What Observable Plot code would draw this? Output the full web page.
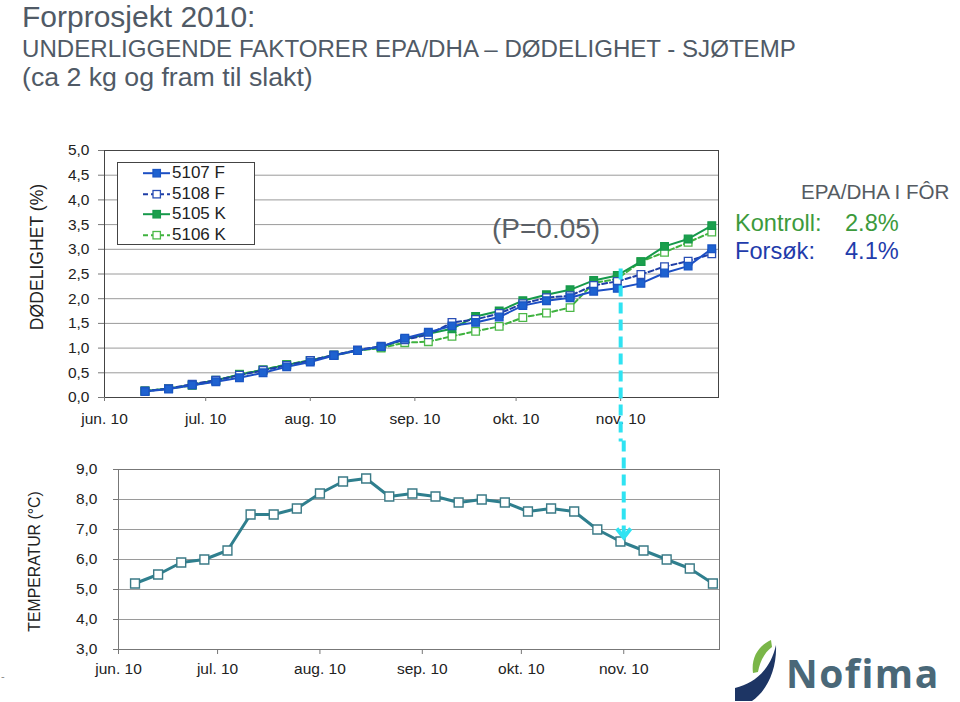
<!DOCTYPE html>
<html><head><meta charset="utf-8">
<script src="https://cdn.jsdelivr.net/npm/d3@7"></script>
<script src="https://cdn.jsdelivr.net/npm/@observablehq/plot@0.6"></script>
<style>
body{margin:0;background:#fff;font-family:"Liberation Sans",Arial,sans-serif;}
#page{position:relative;width:960px;height:702px;overflow:hidden;background:#fff;}
.abs{position:absolute;white-space:nowrap;line-height:1;}
#top,#bottom{position:absolute;left:0;}
#top{top:130px;} #bottom{top:440px;}
</style></head><body>
<div id="page">
  <div class="abs" style="left:22px;top:2px;font-size:30px;color:#505a66;">Forprosjekt 2010:</div>
  <div class="abs" style="left:22px;top:37px;font-size:24.1px;color:#505a66;">UNDERLIGGENDE FAKTORER EPA/DHA – DØDELIGHET - SJØTEMP</div>
  <div class="abs" style="left:22px;top:64px;font-size:26.7px;color:#505a66;">(ca 2 kg og fram til slakt)</div>
  <div id="top"></div>
  <div id="bottom"></div>
  <div id="legend" class="abs" style="left:117px;top:162px;width:136px;height:81px;border:1px solid #444;background:#fff;"></div>
  <div class="abs" style="left:492px;top:215px;font-size:28px;color:#5a5f66;">(P=0.05)</div>
  <div class="abs" style="left:801px;top:182px;font-size:20.6px;color:#555b62;">EPA/DHA I FÔR</div>
  <div class="abs" style="left:735px;top:212px;font-size:23.6px;color:#3c9a3c;">Kontroll:</div>
  <div class="abs" style="left:845px;top:212px;font-size:23.6px;color:#3c9a3c;">2.8%</div>
  <div class="abs" style="left:735px;top:240px;font-size:23.6px;color:#1f3cab;">Forsøk:</div>
  <div class="abs" style="left:845px;top:240px;font-size:23.6px;color:#1f3cab;">4.1%</div>
  <div class="abs" style="left:1px;top:671px;font-size:11px;color:#888;">-</div>
  <svg class="abs" style="left:725px;top:630px;" width="60" height="72" viewBox="725 630 60 72">
    <path d="M735,701 L752,701 C768,690 777,668 776,645 C771,668 756,683 735,688 Z" fill="#1d3564"/>
    <path d="M753,673 C751,658 758,646 771,640 L772,647 C765,652 760,661 758,672 Z" fill="#7ab648"/>
  </svg>
  <div class="abs" style="left:786px;top:653px;font-family:'Open Sans',Lato,sans-serif;font-weight:700;font-size:39px;letter-spacing:1.5px;color:#4a6878;">Nofima</div>
</div>
<script>
// ---------- data ----------
const mortDates = ["2010-06-13","2010-06-20","2010-06-27","2010-07-04","2010-07-11","2010-07-18","2010-07-25",
  "2010-08-01","2010-08-08","2010-08-15","2010-08-22","2010-08-29","2010-09-05","2010-09-12","2010-09-19",
  "2010-09-26","2010-10-03","2010-10-10","2010-10-17","2010-10-24","2010-10-31","2010-11-07","2010-11-14",
  "2010-11-21","2010-11-28"];
const s5107F = [0.12,0.17,0.25,0.32,0.40,0.50,0.62,0.72,0.85,0.95,1.03,1.20,1.32,1.45,1.52,1.63,1.86,1.96,2.02,2.15,2.21,2.31,2.52,2.66,3.01];
const s5108F = [0.13,0.18,0.27,0.35,0.45,0.55,0.65,0.75,0.86,0.96,1.04,1.17,1.27,1.52,1.58,1.70,1.90,2.02,2.06,2.27,2.35,2.49,2.65,2.76,2.91];
const s5105K = [0.13,0.18,0.26,0.35,0.46,0.56,0.66,0.75,0.86,0.95,1.02,1.18,1.29,1.39,1.64,1.75,1.96,2.08,2.18,2.37,2.47,2.75,3.06,3.21,3.48];
const s5106K = [0.13,0.18,0.24,0.34,0.47,0.56,0.67,0.75,0.85,0.95,1.00,1.11,1.13,1.24,1.34,1.44,1.62,1.71,1.82,2.32,2.40,2.75,2.94,3.14,3.35];

const tempDates = ["2010-06-06","2010-06-13","2010-06-20","2010-06-27","2010-07-04","2010-07-11","2010-07-18","2010-07-25",
  "2010-08-01","2010-08-08","2010-08-15","2010-08-22","2010-08-29","2010-09-05","2010-09-12","2010-09-19",
  "2010-09-26","2010-10-03","2010-10-10","2010-10-17","2010-10-24","2010-10-31","2010-11-07","2010-11-14",
  "2010-11-21","2010-11-28"];
const tempValues = [5.2,5.5,5.9,6.0,6.3,7.5,7.5,7.7,8.2,8.6,8.7,8.1,8.2,8.1,7.9,8.0,7.9,7.6,7.7,7.6,7.0,6.6,6.3,6.0,5.7,5.2];

const monthTicks = ["2010-06-01","2010-07-01","2010-08-01","2010-09-01","2010-10-01","2010-11-01"];
const monthLabels = ["jun. 10","jul. 10","aug. 10","sep. 10","okt. 10","nov. 10"];
const xDomain = ["2010-06-01","2010-11-30"];
const topYTicks = [0,0.5,1,1.5,2,2.5,3,3.5,4,4.5,5];
const topYLabels = ["0,0","0,5","1,0","1,5","2,0","2,5","3,0","3,5","4,0","4,5","5,0"];
const botYTicks = [3,4,5,6,7,8,9];
const botYLabels = ["3,0","4,0","5,0","6,0","7,0","8,0","9,0"];
const arrowDate = "2010-11-01";
const arrowTopValue = 2.6;    // start of arrow at mortality chart
const arrowTempValue = 6.6;   // temperature point the arrow points to

// ---------- helpers ----------
const D = s => new Date(s + "T00:00:00Z");
const fmt = (ticks, labels) => d => labels[ticks.findIndex(t => +t === +d)];
const mTicks = monthTicks.map(D);
const fontFamily = '"Liberation Sans", Arial, sans-serif';
const chevron = {draw(ctx) { ctx.moveTo(-7, -9); ctx.lineTo(0, 0); ctx.lineTo(7, -9); }};

const seriesDefs = [
  {name:"5106 K", values:s5106K, stroke:"#3fb23f", dash:"5,3", fill:"#ffffff", mstroke:"#4cb848"},
  {name:"5105 K", values:s5105K, stroke:"#16994b", dash:null,  fill:"#1b9f4d", mstroke:"#16994b"},
  {name:"5108 F", values:s5108F, stroke:"#1f3ea6", dash:"5,3", fill:"#ffffff", mstroke:"#2a4fb5"},
  {name:"5107 F", values:s5107F, stroke:"#1c4fc4", dash:null,  fill:"#1e62d0", mstroke:"#1a55c4"}
];
const legendOrder = ["5107 F","5108 F","5105 K","5106 K"];

const seriesMarks = seriesDefs.flatMap(s => {
  const rows = mortDates.map((d, i) => ({date: D(d), value: s.values[i], series: s.name}));
  return [
    Plot.line(rows, {x:"date", y:"value", stroke:s.stroke, strokeWidth:2, strokeDasharray:s.dash || undefined}),
    Plot.dot(rows, {x:"date", y:"value", symbol:"square", r:4.3, fill:s.fill, stroke:s.mstroke, strokeWidth:1.3})
  ];
});

// ---------- top chart ----------
const topPlot = Plot.plot({
  width: 960, height: 310,
  marginLeft: 104, marginRight: 242, marginTop: 20, marginBottom: 43,
  style: {fontFamily, fontSize: "15.5px", color: "#222", overflow: "visible", background: "transparent"},
  x: {type: "utc", domain: xDomain.map(D)},
  y: {domain: [0, 5]},
  marks: [
    Plot.ruleY(topYTicks, {stroke: "#9a9a9a", strokeWidth: 1}),
    Plot.frame({stroke: "#444", strokeWidth: 1}),
    Plot.axisY(topYTicks, {tickSize: 6, tickPadding: 9, tickFormat: fmt(topYTicks, topYLabels), stroke: "#777", fill: "#222", label: null}),
    Plot.axisX(mTicks, {tickSize: 4, tickPadding: 11, tickFormat: fmt(mTicks, monthLabels), stroke: "#777", fill: "#222", label: null}),
    Plot.text(["DØDELIGHET (%)"], {frameAnchor: "left", textAnchor: "middle", rotate: -90, dx: -67, dy: -17, fontSize: 17.6, fill: "#222"}),
    ...seriesMarks,
    Plot.ruleX([D(arrowDate)], {y1: arrowTopValue, y2: -0.9, stroke: "#2fe3f2", strokeWidth: 4, strokeDasharray: "11,6"})
  ]
});
document.getElementById("top").appendChild(topPlot);

// ---------- bottom chart ----------
const tempRows = tempDates.map((d, i) => ({date: D(d), value: tempValues[i]}));
const botPlot = Plot.plot({
  width: 960, height: 262,
  marginLeft: 118, marginRight: 241, marginTop: 29, marginBottom: 53,
  style: {fontFamily, fontSize: "15.5px", color: "#222", overflow: "visible", background: "transparent"},
  x: {type: "utc", domain: xDomain.map(D)},
  y: {domain: [3, 9]},
  marks: [
    Plot.ruleY(botYTicks, {stroke: "#9a9a9a", strokeWidth: 1}),
    Plot.frame({stroke: "#777", strokeWidth: 1}),
    Plot.axisY(botYTicks, {tickSize: 5, tickPadding: 16, tickFormat: fmt(botYTicks, botYLabels), stroke: "#777", fill: "#222", label: null}),
    Plot.axisX(mTicks, {tickSize: 5, tickPadding: 8, tickFormat: fmt(mTicks, monthLabels), stroke: "#777", fill: "#222", label: null}),
    Plot.text(["TEMPERATUR (°C)"], {frameAnchor: "left", textAnchor: "middle", rotate: -90, dx: -84, dy: 2, fontSize: 15.8, fill: "#222"}),
    Plot.line(tempRows, {x: "date", y: "value", stroke: "#2f7f8e", strokeWidth: 3}),
    Plot.dot(tempRows, {x: "date", y: "value", symbol: "square", r: 5, fill: "#fff", stroke: "#3a7a86", strokeWidth: 1.4}),
    Plot.ruleX([D(arrowDate)], {y1: 9.95, y2: 6.8, stroke: "#2fe3f2", strokeWidth: 4, strokeDasharray: "11,6"}),
    Plot.dot([{x: D(arrowDate), y: arrowTempValue}], {x: "x", y: "y", symbol: chevron, dy: -4, fill: "none", stroke: "#2fe3f2", strokeWidth: 4})
  ]
});
document.getElementById("bottom").appendChild(botPlot);

// ---------- legend (HTML) ----------
const legend = document.getElementById("legend");
legendOrder.forEach((name, i) => {
  const s = seriesDefs.find(d => d.name === name);
  const row = document.createElement("div");
  row.style.cssText = `position:absolute;left:0;top:${i * 20.5}px;height:20.5px;width:136px;`;
  row.innerHTML =
    `<svg style="position:absolute;left:25px;top:0" width="29" height="20.5">` +
    `<line x1="0" x2="27" y1="10.2" y2="10.2" stroke="${s.stroke}" stroke-width="2" ${s.dash ? `stroke-dasharray="${s.dash}"` : ""}/>` +
    `<rect x="10" y="6.5" width="7.4" height="7.4" fill="${s.fill}" stroke="${s.mstroke}" stroke-width="1.3"/></svg>` +
    `<span style="position:absolute;left:54px;top:0;line-height:20.5px;font-size:17px;color:#222;">${name}</span>`;
  legend.appendChild(row);
});
</script>
</body></html>
